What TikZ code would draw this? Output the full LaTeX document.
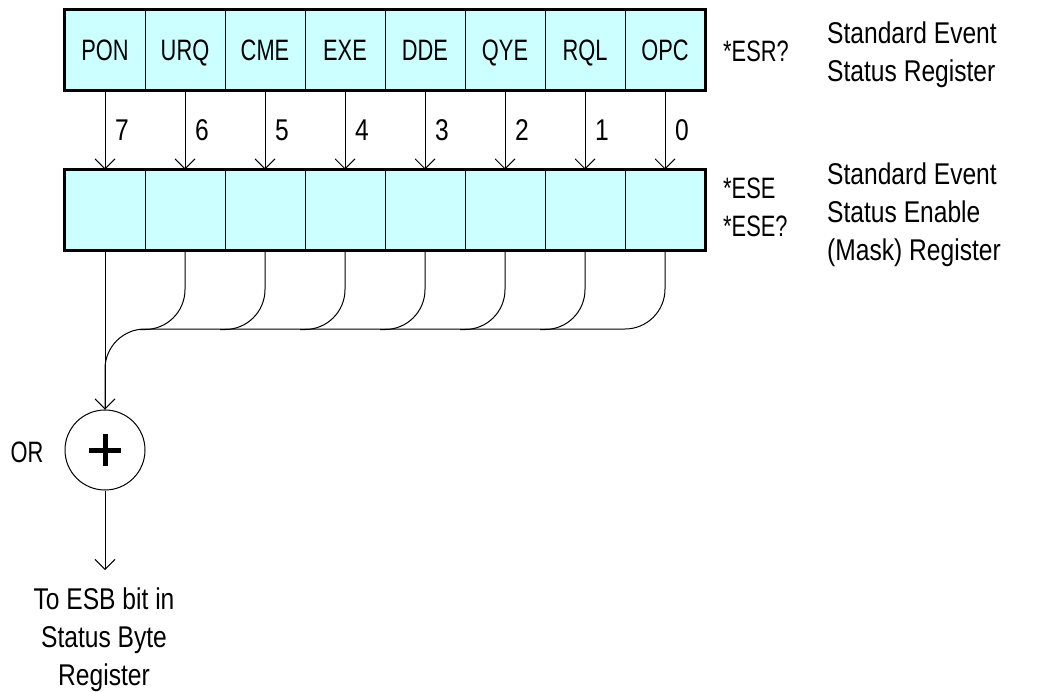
\documentclass[tikz,border=0pt]{standalone}
\usepackage{fontspec}
\setmainfont[FakeStretch=0.82]{Liberation Sans}
\newfontfamily\cellfont[FakeStretch=0.74]{Liberation Sans}
\usetikzlibrary{arrows.meta}
\definecolor{regfill}{HTML}{CCFFFF}
\tikzset{
  every node/.style={font=\fontsize{30}{38}\selectfont, inner sep=0pt},
  capsfont/.style={font=\cellfont\fontsize{29.5}{38}\selectfont},
  lbl/.style={text height=21pt, text depth=0pt},
  cell/.style={lbl, capsfont, draw, line width=1pt, fill=regfill, minimum width=80pt, minimum height=80pt, anchor=center},
  frame/.style={draw, line width=2.5pt},
  wire/.style={line width=1pt},
  arr/.style={-{Straight Barb[length=10pt,width=20pt,line width=1pt]}, line width=1pt},
  txt/.style={anchor=west, align=left},
}
\begin{document}
\begin{tikzpicture}[x=1pt,y=-1pt]
\useasboundingbox (0,0) rectangle (1046,691);
\foreach \name [count=\i from 0] in {PON,URQ,CME,EXE,DDE,QYE,RQL,OPC}{
  \pgfmathtruncatemacro\bit{7-\i}
  \node[cell] (t\bit) at (105+80*\i,50) {\name};
  \node[cell] (b\bit) at (105+80*\i,210) {};
  \draw[arr] (t\bit.south) -- (b\bit.north);
  \node[lbl] (n\bit) at (122+80*\i,130) {\bit};
}
\draw[frame] (t7.north west) rectangle (t0.south east);
\draw[frame] (b7.north west) rectangle (b0.south east);
% OR gate
\node[circle, draw, line width=1pt, minimum size=80pt] (or) at (105,450) {};
\draw[line width=5pt] ([xshift=-16pt]or.center) -- ([xshift=16pt]or.center);
\draw[line width=5pt] ([yshift=-16pt]or.center) -- ([yshift=16pt]or.center);
\node[lbl, capsfont] (orl) at (27,452) {OR};
% bus
\foreach \k in {1,...,6}{
  \draw[wire, rounded corners=40pt] (b\k.south) -- ++(0,79) -- ++(-45,0);
}
\coordinate (join) at (105,329);
\draw[wire, rounded corners=40pt] (b0.south) |- (join) -- (or.north);
\draw[arr] (b7.south) -- (or.north);
% output
\coordinate (outend) at (105,570);
\draw[arr] (or.south) -- (outend);
\node[align=center] (dest) at (104,640) {To ESB bit in\\Status Byte\\Register};
% right texts
\node[txt, capsfont] (esr) at (723,51) {*ESR?};
\node[txt] (sesr) at (827,55) {Standard Event\\Status Register};
\node[txt, capsfont] (ese) at (723,207) {*ESE\\*ESE?};
\node[txt] (sese) at (827,215) {Standard Event\\Status Enable\\(Mask) Register};
\end{tikzpicture}
\end{document}
